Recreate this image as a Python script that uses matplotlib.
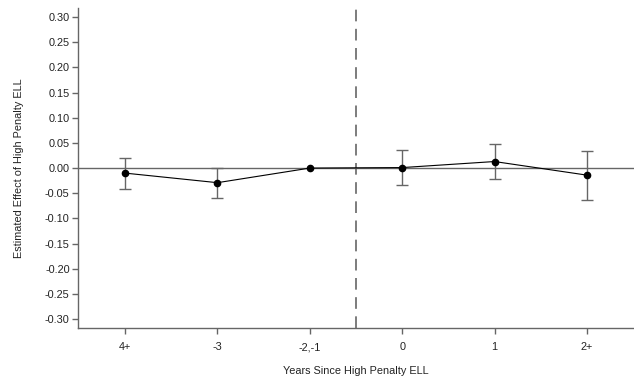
import numpy as np
import matplotlib.pyplot as plt

plt.rcParams['font.family'] = ['Liberation Sans', 'DejaVu Sans']

# event-study estimates, years relative to high penalty ELL
labels = ['4+', '-3', '-2,-1', '0', '1', '2+']
coef = [-0.010, -0.029, 0.000, 0.001, 0.013, -0.014]
ci_low = [-0.042, -0.059, 0.000, -0.033, -0.022, -0.064]
ci_high = [0.020, 0.001, 0.000, 0.035, 0.048, 0.034]
has_ci = [True, True, False, True, True, True]
yticks = [-0.30, -0.25, -0.20, -0.15, -0.10, -0.05, 0.00,
          0.05, 0.10, 0.15, 0.20, 0.25, 0.30]

x = np.arange(len(labels))
coef = np.array(coef)
lo = np.array(ci_low)
hi = np.array(ci_high)
m = np.array(has_ci)

fig = plt.figure(figsize=(6.34, 3.82), dpi=100)
ax = fig.add_axes([0.123, 0.141, 0.877, 0.838])

gray = '#666666'
ax.axhline(0, color=gray, lw=1.0, zorder=1)
ax.axvline(2.5, color=gray, lw=1.2, ls=(0, (7, 4.5)), zorder=1)

ax.errorbar(x[m], coef[m], yerr=[coef[m] - lo[m], hi[m] - coef[m]],
            fmt='none', ecolor=gray, elinewidth=1.0, capsize=4, capthick=1.0, zorder=2)
ax.plot(x, coef, '-o', color='black', lw=0.8, ms=4.5, zorder=3)

ax.set_xlim(-0.51, 5.51)
ax.set_ylim(-0.318, 0.318)
ax.set_xticks(x)
ax.set_xticklabels(labels)
ax.set_yticks(yticks)
ax.set_yticklabels(['%.2f' % v for v in yticks])

for s in ['top', 'right']:
    ax.spines[s].set_visible(False)
for s in ['left', 'bottom']:
    ax.spines[s].set_color(gray)
    ax.spines[s].set_linewidth(1.0)
ax.tick_params(colors=gray, labelcolor='#222222', labelsize=7.8, length=4, width=1.0)
ax.tick_params(axis='x', pad=6)
ax.tick_params(axis='y', pad=2)

ax.set_xlabel('Years Since High Penalty ELL', fontsize=7.8, color='#222222', labelpad=10)
ax.set_ylabel('Estimated Effect of High Penalty ELL', fontsize=7.8, color='#222222', labelpad=15)

fig.savefig('out.png', dpi=100)
